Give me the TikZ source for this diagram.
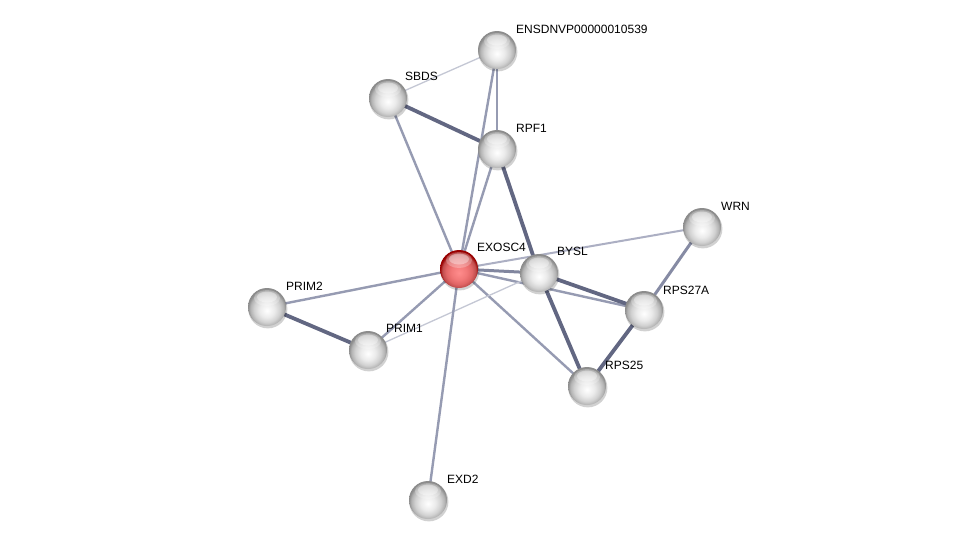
\documentclass[tikz,border=0pt]{standalone}
\usepackage{fontspec}
\setmainfont{Liberation Sans}
\usetikzlibrary{calc}
\definecolor{eMed}{RGB}{150,155,178}
\definecolor{eThick}{RGB}{98,103,130}
\definecolor{eThin}{RGB}{196,199,212}
\definecolor{eLight}{RGB}{172,175,195}
\pgfdeclareradialshading{sball}{\pgfpoint{0bp}{-5bp}}{%
  color(0bp)=(white); color(10bp)=(white!92!black); color(17bp)=(white!82!black);
  color(22bp)=(white!70!black); color(25bp)=(white!55!black); color(50bp)=(white!55!black)}
\pgfdeclareradialshading{rball}{\pgfpoint{0bp}{-5bp}}{%
  color(0bp)=(red!45!white); color(10bp)=(red!50!white!95!black); color(17bp)=(red!55!white!88!black);
  color(22bp)=(red!60!white!75!black); color(25bp)=(red!60!black); color(50bp)=(red!60!black)}
\begin{document}
\begin{tikzpicture}[x=1pt,y=-1pt,
  prot/.style={circle,minimum size=38pt,inner sep=0pt,shading=sball},
  seed/.style={circle,minimum size=38pt,inner sep=0pt,shading=rball},
  lbl/.style={anchor=west,font=\fontsize{12}{14}\selectfont,inner sep=1pt},
  ethin/.style={draw=eThin,line width=1.3pt},
  elight/.style={draw=eLight,line width=2pt},
  emed/.style={draw=eMed,line width=2.4pt},
  ethick/.style={draw=eThick,line width=3.8pt}]
\useasboundingbox (0,0) rectangle (975,546);
\fill[white] (0,0) rectangle (975,546);
% node coordinates
\coordinate (cENS) at (497,50);
\coordinate (cSBDS) at (388,98);
\coordinate (cRPF1) at (497,149);
\coordinate (cWRN) at (702,227);
\coordinate (cEXO) at (459,269);
\coordinate (cBYSL) at (539,273);
\coordinate (cPRIM2) at (267,307);
\coordinate (cRPS27A) at (644,310);
\coordinate (cPRIM1) at (368,350);
\coordinate (cRPS25) at (587,386);
\coordinate (cEXD2) at (428,500);
% edges
\draw[ethin] (cSBDS) -- (cENS);
\draw[ethick] (cSBDS) -- (cRPF1);
\draw[emed] (cSBDS) -- (cEXO);
\draw[emed] (cENS) -- (cRPF1);
\draw[emed] (cENS) -- (cEXO);
\draw[emed] (cRPF1) -- (cEXO);
\draw[ethick] (cRPF1) -- (cBYSL);
\draw[elight] (cEXO) -- (cWRN);
\draw[emed,line width=3pt,draw=eMed!60!eThick] (cEXO) -- (cBYSL);
\draw[emed] (cEXO) -- (cRPS27A);
\draw[ethick] (cBYSL) -- (cRPS27A);
\draw[ethick] (cBYSL) -- (cRPS25);
\draw[emed] (cEXO) -- (cRPS25);
\draw[ethick] (cRPS27A) -- (cRPS25);
\draw[emed,line width=3pt,draw=eMed!70!eThick] (cRPS27A) -- (cWRN);
\draw[emed] (cEXO) -- (cPRIM2);
\draw[emed] (cEXO) -- (cPRIM1);
\draw[ethick] (cPRIM2) -- (cPRIM1);
\draw[ethin] (cPRIM1) -- (cBYSL);
\draw[emed] (cEXO) -- (cEXD2);
% shadows
\foreach \c in {cENS,cSBDS,cRPF1,cWRN,cEXO,cBYSL,cPRIM2,cRPS27A,cPRIM1,cRPS25,cEXD2}{
  \fill[black,opacity=0.18] ($(\c)+(0.8,1.8)$) circle (19.6);
}
\node[prot] (ENS) at (cENS) {};
\node[prot] (SBDS) at (cSBDS) {};
\node[prot] (RPF1) at (cRPF1) {};
\node[prot] (WRN) at (cWRN) {};
\node[seed] (EXO) at (cEXO) {};
\node[prot] (BYSL) at (cBYSL) {};
\node[prot] (PRIM2) at (cPRIM2) {};
\node[prot] (RPS27A) at (cRPS27A) {};
\node[prot] (PRIM1) at (cPRIM1) {};
\node[prot] (RPS25) at (cRPS25) {};
\node[prot] (EXD2) at (cEXD2) {};
% highlights
\foreach \c in {cENS,cSBDS,cRPF1,cWRN,cEXO,cBYSL,cPRIM2,cRPS27A,cPRIM1,cRPS25,cEXD2}{
  \fill[white,opacity=0.25] ($(\c)+(0,-9)$) ellipse (13 and 8);
  \fill[white,opacity=0.35] ($(\c)+(0,-10)$) ellipse (10 and 5.5);
}
% labels
\node[lbl] (lENS) at ($(cENS)+(18,-21)$) {ENSDNVP00000010539};
\node[lbl] (lSBDS) at ($(cSBDS)+(16,-22)$) {SBDS};
\node[lbl] (lRPF1) at ($(cRPF1)+(18,-21)$) {RPF1};
\node[lbl] (lWRN) at ($(cWRN)+(18,-21)$) {WRN};
\node[lbl] (lEXO) at ($(cEXO)+(17,-22)$) {EXOSC4};
\node[lbl] (lBYSL) at ($(cBYSL)+(17,-22)$) {BYSL};
\node[lbl] (lPRIM2) at ($(cPRIM2)+(18,-21)$) {PRIM2};
\node[lbl] (lRPS27A) at ($(cRPS27A)+(18,-20)$) {RPS27A};
\node[lbl] (lPRIM1) at ($(cPRIM1)+(17,-22)$) {PRIM1};
\node[lbl] (lRPS25) at ($(cRPS25)+(17,-21)$) {RPS25};
\node[lbl] (lEXD2) at ($(cEXD2)+(18,-21)$) {EXD2};
\end{tikzpicture}
\end{document}
